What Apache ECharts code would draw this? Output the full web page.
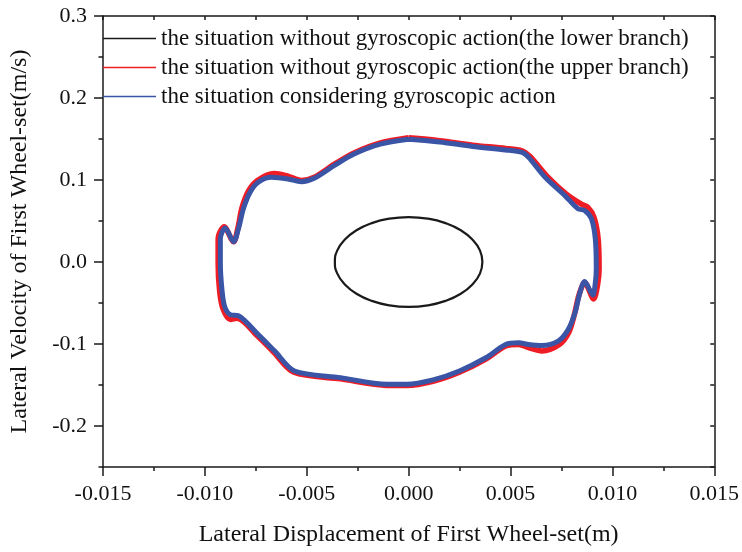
<!DOCTYPE html>
<html>
<head>
<meta charset="utf-8">
<script src="https://cdn.jsdelivr.net/npm/echarts@6/dist/echarts.min.js"></script>
<style>html,body{margin:0;padding:0;background:#fff}#chart{width:742px;height:552px}</style>
</head>
<body>
<div id="chart"></div>
<script>
// ---- data ----
const legendNames = [
  'the situation without gyroscopic action(the lower branch)',
  'the situation without gyroscopic action(the upper branch)',
  'the situation considering gyroscopic action'
];
const yTickLabels = [-0.2, -0.1, 0.0, 0.1, 0.2, 0.3];

// lower branch (black ellipse)
const lowerX = [0.00362,0.00350,0.00313,0.00256,0.00181,0.00094,0,-0.00094,-0.00181,-0.00256,-0.00313,-0.00350,-0.00362,-0.00350,-0.00313,-0.00256,-0.00181,-0.00094,0,0.00094,0.00181,0.00256,0.00313,0.00350,0.00362];
const lowerY = [0,0.0142,0.0274,0.0387,0.0474,0.0529,0.0548,0.0529,0.0474,0.0387,0.0274,0.0142,0,-0.0142,-0.0274,-0.0387,-0.0474,-0.0529,-0.0548,-0.0529,-0.0474,-0.0387,-0.0274,-0.0142,0];

// upper branch (red)
const upperX = [0.00000,0.00152,0.00314,0.00476,0.00557,0.00595,0.00680,0.00777,0.00848,0.00880,0.00910,0.00930,0.00935,0.00928,0.00908,0.00864,0.00837,0.00813,0.00786,0.00738,0.00654,0.00589,0.00540,0.00476,0.00379,0.00249,0.00120,-0.00010,-0.00107,-0.00334,-0.00563,-0.00662,-0.00743,-0.00842,-0.00875,-0.00912,-0.00928,-0.00935,-0.00935,-0.00905,-0.00859,-0.00838,-0.00818,-0.00785,-0.00742,-0.00660,-0.00590,-0.00527,-0.00463,-0.00366,-0.00268,-0.00139,0.00000];
const upperY = [0.1515,0.1480,0.1425,0.1385,0.1355,0.1290,0.1045,0.0822,0.0705,0.0665,0.0545,0.0290,-0.0080,-0.0270,-0.0450,-0.0250,-0.0395,-0.0645,-0.0860,-0.1010,-0.1085,-0.1045,-0.1005,-0.1025,-0.1185,-0.1345,-0.1455,-0.1505,-0.1505,-0.1425,-0.1345,-0.1100,-0.0900,-0.0685,-0.0700,-0.0565,-0.0345,-0.0017,0.0290,0.0430,0.0246,0.0415,0.0660,0.0870,0.0995,0.1080,0.1045,0.0995,0.1035,0.1190,0.1330,0.1452,0.1515];

// with gyroscopic action (blue)
const gyroX = [0.00000,0.00152,0.00314,0.00476,0.00557,0.00589,0.00670,0.00767,0.00831,0.00864,0.00897,0.00916,0.00921,0.00916,0.00904,0.00864,0.00840,0.00816,0.00783,0.00734,0.00654,0.00589,0.00540,0.00476,0.00379,0.00249,0.00120,-0.00010,-0.00107,-0.00334,-0.00560,-0.00657,-0.00738,-0.00835,-0.00875,-0.00903,-0.00916,-0.00924,-0.00924,-0.00900,-0.00859,-0.00835,-0.00811,-0.00778,-0.00738,-0.00673,-0.00592,-0.00527,-0.00463,-0.00366,-0.00268,-0.00139,0.00000];
const gyroY = [0.1497,0.1464,0.1409,0.1367,0.1336,0.1276,0.1033,0.0810,0.0649,0.0629,0.0528,0.0286,-0.0078,-0.0259,-0.0401,-0.0239,-0.0380,-0.0623,-0.0825,-0.0966,-0.1019,-0.1007,-0.0986,-0.1007,-0.1168,-0.1329,-0.1438,-0.1491,-0.1491,-0.1410,-0.1329,-0.1087,-0.0886,-0.0655,-0.0643,-0.0542,-0.0340,-0.0017,0.0286,0.0416,0.0246,0.0407,0.0649,0.0851,0.0973,0.1033,0.1013,0.0980,0.1021,0.1174,0.1316,0.1437,0.1497];

const zip = (xs, ys) => xs.map((x, i) => [x, ys[i]]);

const FONT = 'Liberation Serif';
const AX = '#1a1a1a';

const chart = echarts.init(document.getElementById('chart'), null, {renderer: 'canvas'});
chart.setOption({
  animation: false,
  backgroundColor: '#fff',
  grid: {left: 98, right: 26, top: 16, bottom: 82, containLabel: false},
  legend: {
    data: legendNames,
    orient: 'vertical',
    left: 103, top: 27, padding: 0,
    icon: 'rect',
    itemWidth: 53, itemHeight: 1.5,
    itemGap: 6,
    textStyle: {fontFamily: FONT, fontSize: 23, color: '#111', lineHeight: 23},
    selectedMode: false
  },
  xAxis: [{
    type: 'value', position: 'bottom',
    min: -0.015, max: 0.015, interval: 0.005,
    name: 'Lateral Displacement of First Wheel-set(m)',
    nameLocation: 'middle', nameGap: 56,
    nameTextStyle: {fontFamily: FONT, fontSize: 24, color: '#111'},
    axisLine: {show: true, onZero: false, lineStyle: {color: AX, width: 1.5}},
    axisTick: {show: true, inside: false, length: 9, lineStyle: {color: AX, width: 1.5}},
    minorTick: {show: true, splitNumber: 2, length: 4, lineStyle: {color: AX, width: 1.5}},
    axisLabel: {fontFamily: FONT, fontSize: 22, color: '#111', margin: 16,
      formatter: v => v.toFixed(3)},
    splitLine: {show: false}
  }, {
    type: 'value', position: 'top',
    min: -0.015, max: 0.015, interval: 0.0025,
    axisLine: {show: true, onZero: false, lineStyle: {color: AX, width: 1.5}},
    axisTick: {show: true, inside: true, length: 4, lineStyle: {color: AX, width: 1.5}},
    axisLabel: {show: false},
    splitLine: {show: false}
  }],
  yAxis: [{
    type: 'value', position: 'left',
    min: -0.25, max: 0.3, interval: 0.05,
    name: 'Lateral Velocity of First Wheel-set(m/s)',
    nameLocation: 'middle', nameGap: 71,
    nameTextStyle: {fontFamily: FONT, fontSize: 24, color: '#111'},
    axisLine: {show: true, onZero: false, lineStyle: {color: AX, width: 1.5}},
    axisTick: {show: true, inside: false, length: 4.5, lineStyle: {color: AX, width: 1.5}},
    axisLabel: {fontFamily: FONT, fontSize: 22, color: '#111', margin: 16,
      customValues: yTickLabels,
      formatter: v => v.toFixed(1)},
    splitLine: {show: false}
  }, {
    type: 'value', position: 'left',
    min: -0.25, max: 0.3, interval: 0.05,
    axisLine: {show: false, onZero: false},
    axisTick: {show: true, inside: false, length: 9, customValues: yTickLabels, lineStyle: {color: AX, width: 1.5}},
    axisLabel: {show: false},
    splitLine: {show: false}
  }, {
    type: 'value', position: 'right',
    min: -0.25, max: 0.3, interval: 0.05,
    axisLine: {show: true, onZero: false, lineStyle: {color: AX, width: 1.5}},
    axisTick: {show: true, inside: true, length: 4, lineStyle: {color: AX, width: 1.5}},
    axisLabel: {show: false},
    splitLine: {show: false}
  }],
  series: [{
    name: legendNames[0], type: 'line', xAxisIndex: 0, yAxisIndex: 0,
    data: zip(lowerX, lowerY), showSymbol: false, symbol: 'none', smooth: true,
    color: '#1a1a1a', lineStyle: {color: '#1a1a1a', width: 2.2}
  }, {
    name: legendNames[1], type: 'line', xAxisIndex: 0, yAxisIndex: 0,
    data: zip(upperX, upperY), showSymbol: false, symbol: 'none', smooth: 0.3,
    color: '#EE1C25', lineStyle: {color: '#EE1C25', width: 5.5}
  }, {
    name: legendNames[2], type: 'line', xAxisIndex: 0, yAxisIndex: 0,
    data: zip(gyroX, gyroY), showSymbol: false, symbol: 'none', smooth: 0.3,
    color: '#3A55A6', lineStyle: {color: '#3A55A6', width: 5}
  }]
});
</script>
</body>
</html>
